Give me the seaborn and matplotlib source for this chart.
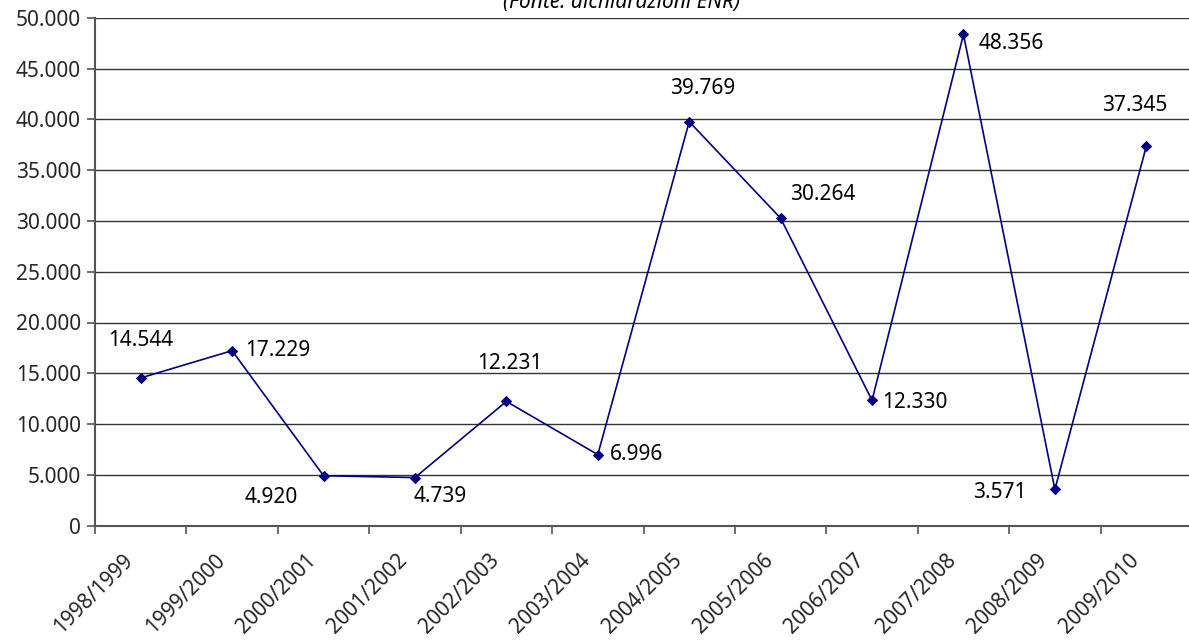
import matplotlib
matplotlib.use('Agg')
import matplotlib.pyplot as plt
import matplotlib.transforms as mtransforms
import seaborn as sns
import pandas as pd
from matplotlib.ticker import FuncFormatter, FixedLocator

# data
seasons = ['1998/1999', '1999/2000', '2000/2001', '2001/2002', '2002/2003', '2003/2004',
           '2004/2005', '2005/2006', '2006/2007', '2007/2008', '2008/2009', '2009/2010']
values = [14544, 17229, 4920, 4739, 12231, 6996, 39769, 30264, 12330, 48356, 3571, 37345]

# label placement (offset in pixels, alignment) per point
label_offsets = [(0, 37, 'center'), (13, 0, 'left'), (-52, -22, 'center'), (25, -19, 'center'),
                 (3, 38, 'center'), (12, 0, 'left'), (13, 33, 'center'), (9, 24, 'left'),
                 (10, -2, 'left'), (15, -9, 'left'), (-28, -3, 'right'), (-12, 41, 'center')]

df = pd.DataFrame({'pos': range(len(seasons)), 'season': seasons, 'value': values})

sns.set_style('white')
plt.rcParams['font.family'] = ['Noto Sans', 'DejaVu Sans']

fig = plt.figure(figsize=(11.89, 6.4), dpi=100)
ax = fig.add_axes([95 / 1189, 114.3 / 640, 1097 / 1189, 508 / 640])

sns.lineplot(data=df, x='pos', y='value', ax=ax, color='#000080', linewidth=1.2,
             marker='D', markersize=5.5, markeredgecolor='#000080', clip_on=False)

ax.set_xlim(-0.5, len(seasons) - 0.5)
ax.set_ylim(0, 50000)
ax.set_yticks(range(0, 50001, 5000))
ax.yaxis.set_major_formatter(FuncFormatter(lambda v, p: f'{v:,.0f}'.replace(',', '.')))
ax.grid(axis='y', color='#333333', linewidth=1)
ax.set_axisbelow(True)

# ticks on category boundaries, labels in the middle
ax.xaxis.set_major_locator(FixedLocator([i - 0.5 for i in range(len(seasons) + 1)]))
ax.set_xticklabels([])
ax.set_xticks(range(len(seasons)), minor=True)
ax.set_xticklabels(seasons, minor=True, rotation=45, ha='right', rotation_mode='anchor')
ax.tick_params(axis='x', which='minor', length=0, pad=14, labelsize=15)
ax.tick_params(axis='x', which='major', length=6, width=1.2, color='#555555', direction='out')
ax.tick_params(axis='y', length=6, width=1.2, color='#555555', direction='out', labelsize=15, pad=4)
ax.tick_params(axis='both', bottom=True, left=True, which='both')

shift = mtransforms.ScaledTranslation(-18 / 100, -5 / 100, fig.dpi_scale_trans)
for lbl in ax.get_xticklabels(minor=True):
    lbl.set_transform(lbl.get_transform() + shift)

ax.set_xlabel('')
ax.set_ylabel('')
for side in ['top', 'right']:
    ax.spines[side].set_visible(False)
for side in ['left', 'bottom']:
    ax.spines[side].set_color('#555555')
    ax.spines[side].set_linewidth(1.5)

for i, v in enumerate(values):
    dx, dy, ha = label_offsets[i]
    ax.annotate(f'{v:,}'.replace(',', '.'), (i, v), xytext=(dx, dy), textcoords='offset pixels',
                ha=ha, va='center', fontsize=15, color='black', annotation_clip=False)

fig.text(622 / 1189, 1 - 8 / 640, '(Fonte: dichiarazioni ENR)', ha='center', va='baseline',
         fontsize=15, style='italic', color='black')

fig.savefig('out.png', dpi=100)
